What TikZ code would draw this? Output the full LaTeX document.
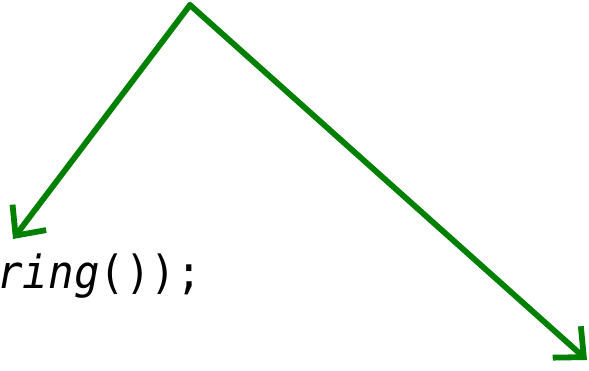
\documentclass[tikz,border=0pt]{standalone}
\usepackage{fontspec}
\setmonofont{DejaVu Sans Mono}
\usetikzlibrary{arrows.meta}
\definecolor{arrowgreen}{RGB}{0,128,0}
\tikzset{
  pointer/.style={draw=arrowgreen, line width=3.3pt, line cap=round, line join=round,
    -{Straight Barb[length=13pt, width=24pt, line width=3.3pt]}},
  codetext/.style={font=\ttfamily\fontsize{26}{30}\selectfont, xscale=0.93, inner sep=0pt, anchor=base west}
}
\begin{document}
\begin{tikzpicture}[x=0.02cm, y=-0.02cm]
  \useasboundingbox (0,0) rectangle (589,371);
  \coordinate (top) at (190,5);
  \coordinate (left) at (13,239);
  \coordinate (right) at (587,360);
  \node[codetext] (code) at (-3,289) {\textit{ring}());};
  \draw[pointer] (top) -- (left);
  \draw[pointer] (top) -- (right);
\end{tikzpicture}
\end{document}
